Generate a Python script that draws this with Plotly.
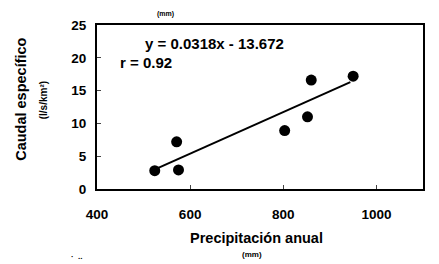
import plotly.graph_objects as go

# Data
precip = [524, 571, 575, 803, 852, 860, 950]
caudal = [2.8, 7.2, 2.9, 8.9, 11.0, 16.6, 17.2]
trend_x = [528, 944]
trend_y = [3.1, 16.3]
x_ticks = [400, 600, 800, 1000]
y_ticks = [0, 5, 10, 15, 20, 25]

FONT = "Liberation Sans, Arial, sans-serif"

fig = go.Figure()
fig.add_trace(go.Scatter(x=trend_x, y=trend_y, mode="lines",
                         line=dict(color="black", width=2), showlegend=False,
                         hoverinfo="skip"))
fig.add_trace(go.Scatter(x=precip, y=caudal, mode="markers",
                         marker=dict(color="black", size=11), showlegend=False))

fig.update_xaxes(range=[400, 1100], tickvals=x_ticks, ticks="inside", ticklen=4,
                 showline=True, linecolor="black", linewidth=2, mirror=True,
                 showgrid=False, zeroline=False, ticklabelstandoff=12,
                 tickfont=dict(family=FONT, size=13.5, color="black", weight="bold"))
fig.update_yaxes(range=[0, 25], tickvals=y_ticks, ticks="inside", ticklen=4,
                 showline=True, linecolor="black", linewidth=2, mirror=True,
                 showgrid=False, zeroline=False, ticklabelstandoff=6,
                 tickfont=dict(family=FONT, size=13.5, color="black", weight="bold"))


def text(t, x, y, size, xanchor="center", yanchor="middle", angle=0):
    fig.add_annotation(xref="paper", yref="paper", showarrow=False, text=t,
                       x=x, y=y, xanchor=xanchor, yanchor=yanchor, textangle=angle,
                       font=dict(family=FONT, size=size, color="black"))


# page coords -> paper: x=(px-97)/326, y=(189-py)/171
text("<b>y = 0.0318x - 13.672</b>", 0.141, 0.889, 15, xanchor="left")
text("<b>r = 0.92</b>", 0.064, 0.772, 15, xanchor="left")
text("<b>Precipitación anual</b>", 0.49, -0.30, 14.5)
text("<b>(mm)</b>", 0.475, -0.40, 8)
text("<b>Caudal específico</b>", -0.233, 0.544, 14.5, angle=-90)
text("<b>(l/s/km²)</b>", -0.163, 0.54, 10, angle=-90)
text("<b>(mm)</b>", 0.21, 1.07, 7)
text("<b>·  ..</b>", -0.06, -0.41, 8)

fig.update_layout(width=431, height=256,
                  margin=dict(l=89, r=16, t=10, b=75),
                  paper_bgcolor="white", plot_bgcolor="white",
                  font=dict(family=FONT, color="black"))

fig.write_html("out.html")
